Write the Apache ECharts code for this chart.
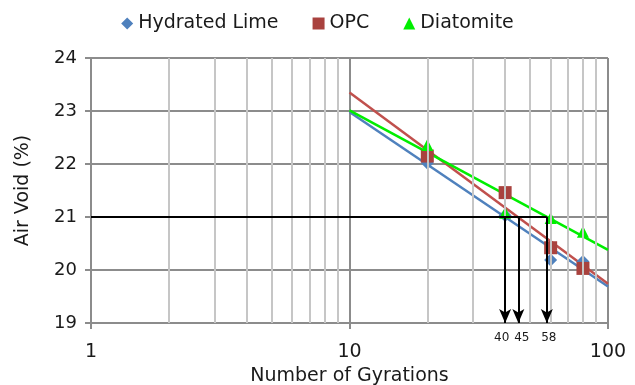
<!DOCTYPE html>
<html>
<head>
<meta charset="utf-8">
<script src="https://cdn.jsdelivr.net/npm/echarts@6/dist/echarts.min.js"></script>
<style>
  html, body { margin: 0; padding: 0; background: #fff; }
  #chart { width: 635px; height: 385px; }
</style>
</head>
<body>
<div id="chart"></div>
<script>
  // measured points
  const gyrations = [20, 40, 60, 80]
  const limeVoid = [22.02, 21.03, 20.19, 20.16]
  const opcVoid = [22.15, 21.46, 20.42, 20.03]
  const diatomiteVoid = [22.36, 21.08, 20.98, 20.72]

  // log trend lines, ends at N = 10 and N = 100
  const trendX = [10, 100]
  const limeTrend = [22.98, 19.69]
  const opcTrend = [23.35, 19.74]
  const diatomiteTrend = [23.01, 20.38]

  // 21 % air void read-off
  const targetVoid = 21
  const designGyrations = [40, 45, 58]
  const minorGyrations = [2, 3, 4, 5, 6, 7, 8, 9, 20, 30, 40, 50, 60, 70, 80, 90]

  const font = 'DejaVu Sans'
  const zip = (xs, ys) => xs.map((x, i) => [x, ys[i]])

  const chart = echarts.init(document.getElementById('chart'))

  const trend = (name, data, color) => ({
    name: name + ' trend',
    type: 'line',
    data: zip(trendX, data),
    symbol: 'none',
    silent: true,
    z: 3,
    lineStyle: { color, width: 2.5 },
  })

  const points = (name, data, color, symbol, size) => ({
    name,
    type: 'scatter',
    data: zip(gyrations, data),
    symbol,
    symbolSize: size,
    itemStyle: { color, opacity: 1 },
    z: 4,
  })

  // nudge the crowded read-off labels apart
  const labelPad = [[0, 7, 0, 0], [0, 0, 0, 7], [0, 0, 0, 4]]

  const option = {
    animation: false,
    textStyle: { fontFamily: font },
    legend: {
      data: [
        { name: 'Hydrated Lime', icon: 'diamond' },
        { name: 'OPC', icon: 'rect' },
        { name: 'Diatomite', icon: 'triangle' },
      ],
      top: 9,
      left: 'center',
      itemWidth: 12,
      itemHeight: 12,
      itemGap: 34,
      textStyle: { fontSize: 19, color: '#1a1a1a', fontFamily: font },
    },
    grid: { left: 91, right: 27, top: 58, bottom: 62, outerBoundsMode: 'none', containLabel: false },
    xAxis: {
      type: 'log',
      logBase: 10,
      min: 1,
      max: 100,
      name: 'Number of Gyrations',
      nameLocation: 'middle',
      nameGap: 42,
      nameTextStyle: { fontSize: 19, color: '#1a1a1a' },
      axisLine: { lineStyle: { color: '#8c8c8c', width: 2 } },
      axisTick: { show: true, length: 6, lineStyle: { color: '#8c8c8c', width: 2 } },
      axisLabel: { fontSize: 19, color: '#1a1a1a', margin: 20 },
      splitLine: { show: true, lineStyle: { color: '#8c8c8c', width: 2 } },
    },
    yAxis: {
      type: 'value',
      min: 19,
      max: 24,
      interval: 1,
      name: 'Air Void (%)',
      nameLocation: 'middle',
      nameGap: 58,
      nameTextStyle: { fontSize: 19, color: '#1a1a1a' },
      axisLine: { show: true, lineStyle: { color: '#8c8c8c', width: 2 } },
      axisTick: { show: true, length: 6, lineStyle: { color: '#8c8c8c', width: 2 } },
      axisLabel: { fontSize: 18, color: '#1a1a1a', margin: 14 },
      splitLine: { lineStyle: { color: '#8c8c8c', width: 2 } },
    },
    series: [
      {
        name: 'minor grid',
        type: 'line',
        data: [],
        silent: true,
        z: 1,
        markLine: {
          silent: true,
          symbol: 'none',
          label: { show: false },
          lineStyle: { color: '#c6c6c6', width: 2, type: 'solid' },
          data: minorGyrations.map((v) => ({ xAxis: v })),
        },
      },
      {
        name: 'read-off',
        type: 'line',
        data: [],
        silent: true,
        z: 5,
        markLine: {
          silent: true,
          symbol: ['none', 'arrow'],
          symbolSize: [9, 14],
          lineStyle: { color: '#000', width: 2, type: 'solid' },
          label: {
            show: true,
            position: 'end',
            distance: 9,
            fontSize: 12,
            color: '#1a1a1a',
          },
          data: [
            [
              { coord: [1, targetVoid], symbol: 'none' },
              { coord: [designGyrations[2], targetVoid], symbol: 'none', label: { show: false } },
            ],
            ...designGyrations.map((g, i) => [
              { coord: [g, targetVoid] },
              { coord: [g, 19], label: { formatter: String(g), padding: labelPad[i] } },
            ]),
          ],
        },
      },
      trend('Hydrated Lime', limeTrend, '#4f81bd'),
      trend('OPC', opcTrend, '#c0504d'),
      trend('Diatomite', diatomiteTrend, '#00ee00'),
      points('Hydrated Lime', limeVoid, '#4f81bd', 'diamond', 13),
      points('OPC', opcVoid, '#a9423e', 'rect', 13),
      points('Diatomite', diatomiteVoid, '#00ee00', 'triangle', 12),
    ],
  }

  chart.setOption(option)
</script>
</body>
</html>
